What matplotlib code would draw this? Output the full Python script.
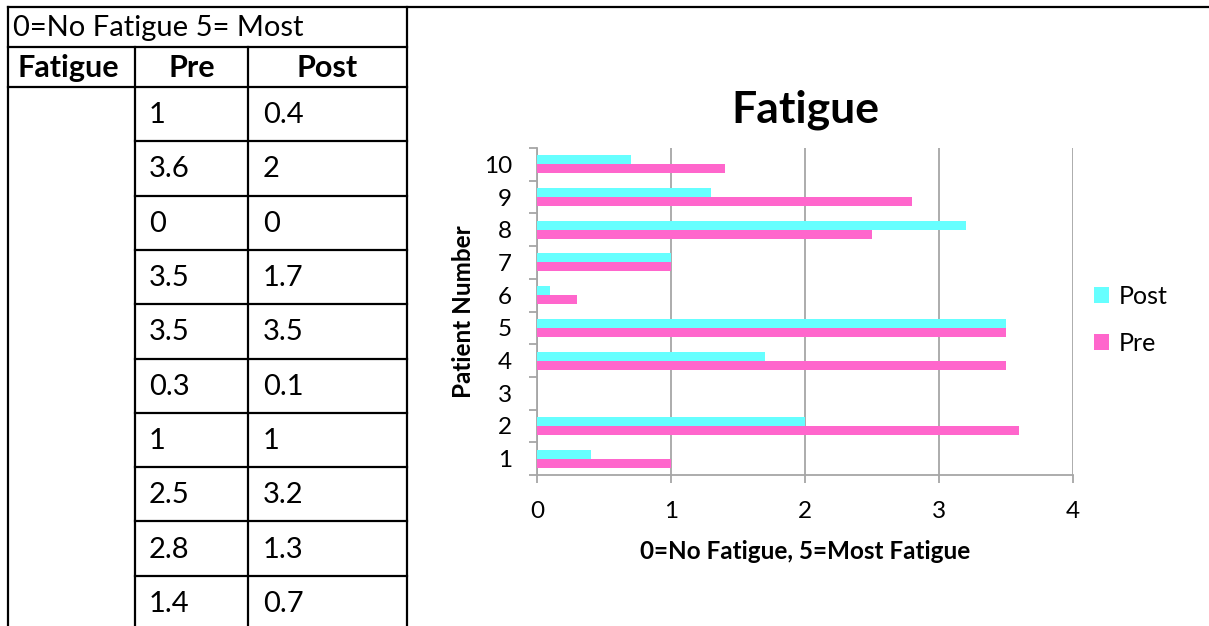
import matplotlib
matplotlib.use("Agg")
import matplotlib.pyplot as plt
from matplotlib.patches import Patch
from matplotlib.ticker import FixedLocator, NullFormatter

plt.rcParams['font.family'] = ['Lato', 'DejaVu Sans']

# ---- data ----
patients = [1, 2, 3, 4, 5, 6, 7, 8, 9, 10]
pre = [1, 3.6, 0, 3.5, 3.5, 0.3, 1, 2.5, 2.8, 1.4]
post = [0.4, 2, 0, 1.7, 3.5, 0.1, 1, 3.2, 1.3, 0.7]
table_note = "0=No Fatigue 5= Most"
table_headers = ["Fatigue", "Pre", "Post"]
chart_title = "Fatigue"
x_label = "0=No Fatigue, 5=Most Fatigue"
y_label = "Patient Number"
x_ticks = [0, 1, 2, 3, 4]

pre_color = "#FF66CC"
post_color = "#66FFFF"
grid_color = "#A6A6A6"

W, H = 1209, 626
fig = plt.figure(figsize=(W / 100, H / 100), dpi=100)

# ---- background table (figure pixel coordinates) ----
bg = fig.add_axes([0, 0, 1, 1])
bg.set_xlim(0, W)
bg.set_ylim(H, 0)
bg.axis("off")

lw = 1.6
xL, xC1, xC2, xR = 8, 135, 248, 407
yT, yR1, yR2 = 7, 47, 87
row_h = 54.3

def hline(y, x0, x1):
    bg.plot([x0, x1], [y, y], color="black", lw=lw, solid_capstyle="projecting")

def vline(x, y0, y1):
    bg.plot([x, x], [y0, y1], color="black", lw=lw, solid_capstyle="projecting")

hline(yT, xL, W + 5)
hline(yR1, xL, xR)
hline(yR2, xL, xR)
for i in range(1, len(pre)):
    hline(yR2 + i * row_h, xC1, xR)
vline(xL, yT, H + 5)
vline(xC1, yR1, H + 5)
vline(xC2, yR1, H + 5)
vline(xR, yT, H + 5)

fs_table = 21
fs_head = 22
bg.text(13, (yT + yR1) / 2 + 1, table_note, fontsize=fs_table, va="center", ha="left")
bg.text(17, (yR1 + yR2) / 2 + 1, table_headers[0], fontsize=fs_head, fontweight="bold",
        va="center", ha="left")
bg.text((xC1 + xC2) / 2, (yR1 + yR2) / 2 + 1, table_headers[1], fontsize=fs_head,
        fontweight="bold", va="center", ha="center")
bg.text((xC2 + xR) / 2, (yR1 + yR2) / 2 + 1, table_headers[2], fontsize=fs_head,
        fontweight="bold", va="center", ha="center")
for i, (a, b) in enumerate(zip(pre, post)):
    yc = yR2 + (i + 0.5) * row_h + 1
    bg.text(xC1 + 14, yc, f"{a:g}", fontsize=fs_table, va="center", ha="left")
    bg.text(xC2 + 15, yc, f"{b:g}", fontsize=fs_table, va="center", ha="left")

# ---- chart ----
ax = fig.add_axes([537 / W, 1 - 475 / H, (1073 - 537) / W, (475 - 148) / H])
bh = 0.275
ax.barh([p + bh / 2 for p in patients], post, height=bh, color=post_color, zorder=3)
ax.barh([p - bh / 2 for p in patients], pre, height=bh, color=pre_color, zorder=3)

ax.set_xlim(0, 4)
ax.set_ylim(0.5, 10.5)
ax.set_xticks(x_ticks)
ax.set_xticklabels([str(t) for t in x_ticks])
ax.xaxis.grid(True, color=grid_color, lw=1.3, zorder=0)
ax.set_axisbelow(True)

# y: tick marks at category boundaries, labels at centres
ax.yaxis.set_major_locator(FixedLocator([p + 0.5 for p in [0] + patients]))
ax.yaxis.set_major_formatter(NullFormatter())
ax.yaxis.set_minor_locator(FixedLocator(patients))
ax.set_yticklabels([str(p) for p in patients], minor=True)
ax.tick_params(axis="y", which="major", length=5.5, color=grid_color, width=1.3)
ax.tick_params(axis="y", which="minor", length=0, labelsize=17.5, pad=18)
ax.tick_params(axis="x", length=6, color=grid_color, width=1.3, labelsize=17.5, pad=13)

for s in ["top", "right"]:
    ax.spines[s].set_visible(False)
for s in ["left", "bottom"]:
    ax.spines[s].set_color(grid_color)
    ax.spines[s].set_linewidth(1.3)

ax.set_title(chart_title, fontsize=32, fontweight="bold", pad=18)
ax.set_xlabel(x_label, fontsize=17.5, fontweight="bold", labelpad=13)
ax.set_ylabel(y_label, fontsize=17.5, fontweight="bold", labelpad=6)

handles = [Patch(facecolor=post_color, label="Post"), Patch(facecolor=pre_color, label="Pre")]
ax.legend(handles=handles, loc="upper left", bbox_to_anchor=(1084 / W, 1 - 275 / H),
          bbox_transform=fig.transFigure, frameon=False, fontsize=18,
          handlelength=0.6, handleheight=0.6, handletextpad=0.4, labelspacing=0.95,
          borderaxespad=0)

fig.savefig("out.png", dpi=100)
